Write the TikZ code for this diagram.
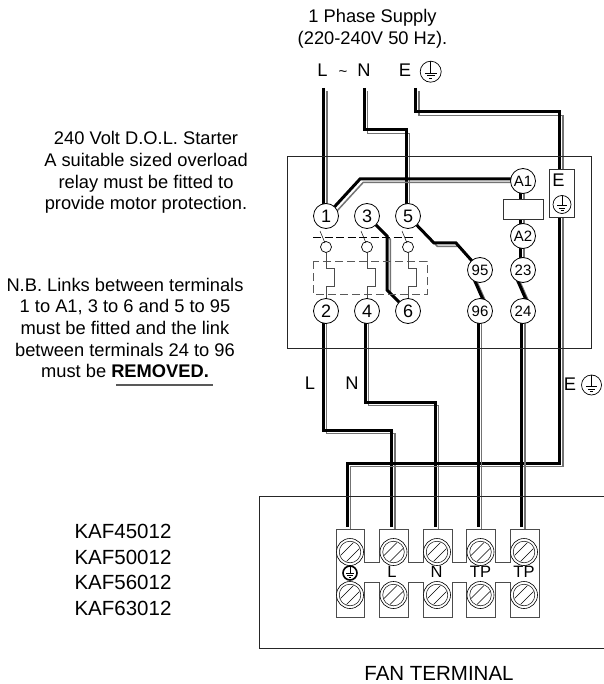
\documentclass[tikz,border=0pt]{standalone}
\usepackage{fontspec}
\setmainfont{Liberation Sans}
\usetikzlibrary{backgrounds}
\newcommand{\txtsize}{\fontsize{18.3}{21.7}\selectfont}
\newcommand{\wire}[2]{\draw[wirehi] ([hi]#1) foreach \p in {#2} { -- ([hi]\p) }; \draw[wirelo] (#1) foreach \p in {#2} { -- (\p) };}
\begin{document}
\begin{tikzpicture}[x=1pt, y=-1pt,
        hi/.style={shift={(3.3,3.3)}},
        wirelo/.style={line width=3pt, black, line join=miter},
        wirehi/.style={line width=1.5pt, black!55, line join=miter},
        frame/.style={draw, black!85, line width=0.8pt},
        thin line/.style={draw, gray!60!black, line width=0.9pt},
        boxed/.style={draw=black!80, fill=white, inner sep=0pt, line width=0.7pt},
        term/.style={draw, circle, fill=white, minimum size=25pt, inner sep=0pt, line width=0.8pt, font=\fontsize{18}{18}\selectfont},
        term2/.style={term, font=\fontsize{15}{15}\selectfont},
        contact/.style={draw, circle, fill=white, minimum size=11pt, inner sep=0pt, line width=0.7pt},
        txt/.style={align=center, inner sep=0pt, font=\txtsize},
        fanlbl/.style={txt, font=\fontsize{16.5}{16.5}\selectfont},
        earth/.style={draw, circle, fill=white, minimum size=#1, inner sep=0pt, line width=0.7pt, path picture={
            \begin{scope}[shift={(path picture bounding box.center)}, x=#1/18, y=-#1/18, line width=0.6pt]
                \draw (0,-9) -- (0,1);
                \draw (-5,1) -- (5,1);
                \draw (-3.3,3.5) -- (3.3,3.5);
                \draw (-1.5,6) -- (1.5,6);
            \end{scope}}},
        screw/.style={draw, circle, fill=white, minimum size=27pt, inner sep=0pt, line width=0.6pt, path picture={
            \begin{scope}[shift={(path picture bounding box.center)}, line width=0.5pt]
                \draw (0,0) circle (10.8);
                \draw (-9.5,3.5) -- (3.5,-9.5);
                \draw (-3.5,9.5) -- (9.5,-3.5);
            \end{scope}}}
    ]
        \useasboundingbox (0,0) rectangle (603,684);

        % supply
        \node[txt] (supply) at (372.5,29) {1 Phase Supply\\(220-240V 50 Hz).};
        \node[txt] (supL) at (322.5,70) {L};
        \node[txt, font=\fontsize{15}{15}\selectfont] (supTilde) at (343,74) {\char`\~};
        \node[txt] (supN) at (364,70) {N};
        \node[txt] (supE) at (405,70) {E};
        \node[earth=21pt] (supEarth) at (430.7,71.7) {};

        % left texts
        \node[txt] (starter) at (146,172.5) {240 Volt D.O.L. Starter\\A suitable sized overload\\relay must be fitted to\\provide motor protection.};
        \node[txt] (nb) at (125,328) {N.B. Links between terminals\\1 to A1, 3 to 6 and 5 to 95\\must be fitted and the link\\between terminals 24 to 96\\must be \textbf{REMOVED.}};
        \coordinate (ulA) at (116,385);
        \coordinate (ulB) at (213,385);
        \draw[gray!70!black, line width=1.2pt] (ulA) -- (ulB);

        % starter box and fan box
        \node[frame, minimum width=304pt, minimum height=192pt, inner sep=0pt] (starterbox) at (439,252) {};
        \node[frame, minimum width=346pt, minimum height=152.5pt, inner sep=0pt] (fanbox) at (432,572.2) {};

        % terminals
        \node[term] (t1) at (326,216) {1};
        \node[term] (t3) at (367,216) {3};
        \node[term] (t5) at (408,216) {5};
        \node[term] (t2) at (326,311) {2};
        \node[term] (t4) at (367,311) {4};
        \node[term] (t6) at (408,311) {6};
        \node[term2] (tA1) at (523,181) {A1};
        \node[term2] (tA2) at (523,236) {A2};
        \node[term2] (t95) at (480,270) {95};
        \node[term2] (t96) at (480,311) {96};
        \node[term2] (t23) at (523,270) {23};
        \node[term2] (t24) at (523,311) {24};
        \node[boxed, minimum width=40pt, minimum height=20pt] (coil) at (523,209) {};
        \node[boxed, minimum width=25pt, minimum height=48pt] (ebox) at (561.5,193) {};
        \node[txt] (eboxE) at (558.5,180) {E};
        \node[earth=18pt] (eboxEarth) at (562,204.5) {};

        % contacts
        \node[contact] (c1) at (326,247) {};
        \node[contact] (c3) at (367,247) {};
        \node[contact] (c5) at (408,247) {};
        \foreach \x in {326,367,408} {
            \draw[black, line width=0.5pt] (\x-6,231) -- (\x-1,243);
        }
        \draw[black, line width=0.7pt, dash pattern=on 8pt off 3.5pt] (313,237) -- (416,237);
        \draw[gray!70!black, line width=0.9pt, dash pattern=on 8pt off 4pt] (313,261) rectangle (427,294);
        \draw[thin line] (c1) -- (326,268) -- (334,268) -- (334,286) -- (326,286) -- (t2);
        \draw[thin line] (c3) -- (367,268) -- (375,268) -- (375,286) -- (367,286) -- (t4);
        \draw[thin line] (c5) -- (408,268) -- (416,268) -- (416,286) -- (408,286) -- (t6);

        % fan terminal block
        \draw[thin line] (336,529) -- (364,529) -- (364,562) -- (379,562) -- (379,529) -- (408,529) -- (408,562) -- (423,562) -- (423,529) -- (452,529) -- (452,562) -- (466,562) -- (466,529) -- (495,529) -- (495,562) -- (510,562) -- (510,529) -- (539,529) -- (539,617) -- (510,617) -- (510,582) -- (495,582) -- (495,617) -- (466,617) -- (466,582) -- (452,582) -- (452,617) -- (423,617) -- (423,582) -- (408,582) -- (408,617) -- (379,617) -- (379,582) -- (364,582) -- (364,617) -- (336,617) -- cycle;
        \foreach \n/\x in {a/350,b/393.5,c/437,d/480.5,e/524} {
            \node[screw] (scr\n) at (\x,552) {};
            \node[screw] (bot\n) at (\x,595) {};
        }
        \node[earth=14pt, line width=1.6pt] (fanEarth) at (350,573) {};
        \node[fanlbl] (fanL) at (392,571.5) {L};
        \node[fanlbl] (fanN) at (436.5,571.5) {N};
        \node[fanlbl] (fanTa) at (480.5,571.5) {TP};
        \node[fanlbl] (fanTb) at (524,571.5) {TP};

        % outgoing labels
        \node[txt] (lblL) at (310,383) {L};
        \node[txt] (lblN) at (352,383) {N};
        \node[txt] (lblE) at (570,384) {E};
        \node[earth=20pt] (lblEarth) at (591.5,385) {};

        % model list and caption
        \node[txt, align=left, font=\fontsize{20.5}{25.5}\selectfont] (models) at (123,570) {KAF45012\\KAF50012\\KAF56012\\KAF63012};
        \node[txt, font=\fontsize{20.5}{25}\selectfont] (caption) at (439,673) {FAN TERMINAL};

        % wires
        \coordinate (wL) at (323.5,88);
        \coordinate (wL2) at (323.5,216);
        \coordinate (wN) at (364,88);
        \coordinate (kNa) at (364,130);
        \coordinate (kNb) at (406,130);
        \coordinate (wN2) at (406,216);
        \coordinate (wE) at (415.5,88);
        \coordinate (kEa) at (415.5,112);
        \coordinate (kEb) at (559.5,112);
        \coordinate (wE2) at (559.5,169);
        \coordinate (kA1a) at (360,179);
        \coordinate (kA1b) at (523,179);
        \coordinate (k3a) at (387,236);
        \coordinate (k3b) at (387,290);
        \coordinate (k5a) at (434,243);
        \coordinate (k5b) at (456,243);
        \coordinate (a95) at (470,270);
        \coordinate (a96) at (488,311);
        \coordinate (a23) at (513,270);
        \coordinate (a24) at (531,311);
        \coordinate (coilA) at (520.5,181);
        \coordinate (coilB) at (520.5,270);
        \coordinate (o2) at (323,311);
        \coordinate (kLa) at (323,430);
        \coordinate (kLb) at (391.5,430);
        \coordinate (fL) at (391.5,527);
        \coordinate (o4) at (365,311);
        \coordinate (kNc) at (365,402);
        \coordinate (kNd) at (435,402);
        \coordinate (fN) at (435,527);
        \coordinate (oE) at (559.5,204);
        \coordinate (kFa) at (559.5,463);
        \coordinate (kFb) at (347,463);
        \coordinate (fE) at (347,527);
        \coordinate (o96) at (478,311);
        \coordinate (fTa) at (478,527);
        \coordinate (o24) at (521.5,311);
        \coordinate (fTb) at (521.5,527);
        \begin{scope}[on background layer]
            \wire{wL}{wL2}
            \wire{wN}{kNa,kNb,wN2}
            \wire{wE}{kEa,kEb,wE2}
            \wire{t1.center}{kA1a,kA1b}
            \wire{t3.center}{k3a,k3b,t6.center}
            \wire{t5.center}{k5a,k5b,t95.center}
            \wire{a95}{a96}
            \wire{a23}{a24}
            \wire{coilA}{coilB}
            \wire{o2}{kLa,kLb,fL}
            \wire{o4}{kNc,kNd,fN}
            \wire{oE}{kFa,kFb,fE}
            \wire{o96}{fTa}
            \wire{o24}{fTb}
        \end{scope}
    \end{tikzpicture}
\end{document}
